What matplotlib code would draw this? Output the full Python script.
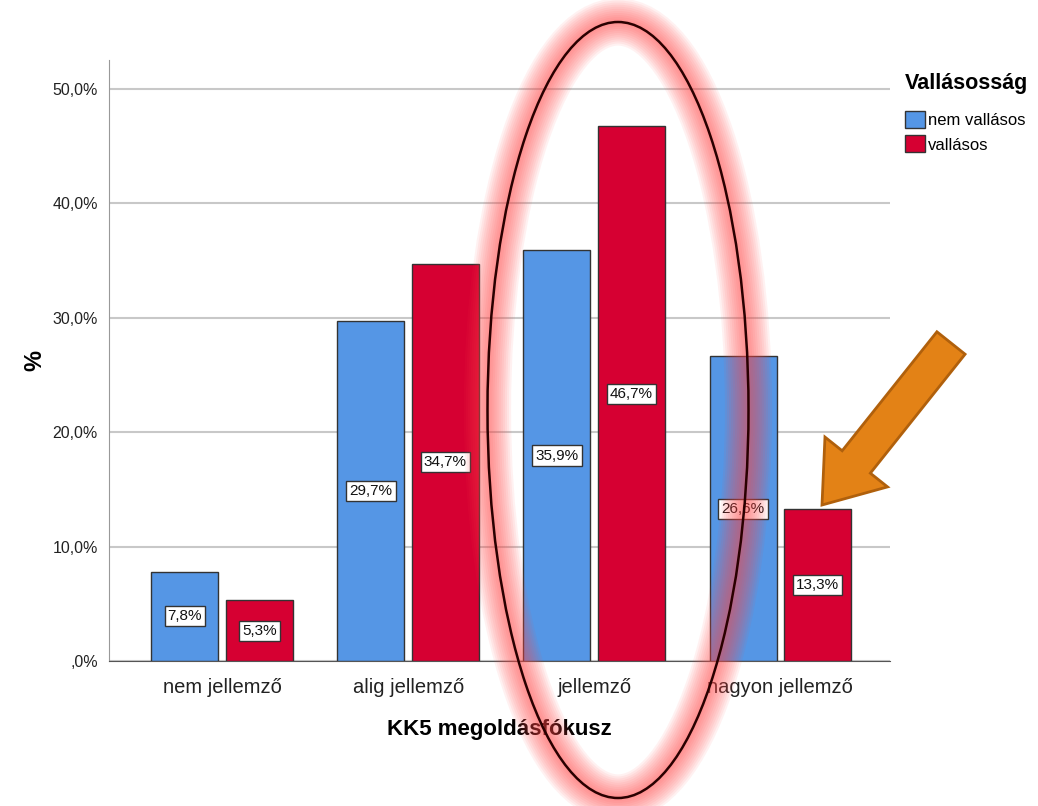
import numpy as np
import matplotlib
matplotlib.use("Agg")
import matplotlib.pyplot as plt
import matplotlib.patches as mpatches
from matplotlib.transforms import IdentityTransform

plt.rcParams['font.family'] = ['Liberation Sans', 'DejaVu Sans']

categories = ['nem jellemző', 'alig jellemző', 'jellemző', 'nagyon jellemző']
nem_vallasos = [7.8, 29.7, 35.9, 26.6]
vallasos = [5.3, 34.7, 46.7, 13.3]
series_names = ['nem vallásos', 'vallásos']
yticks = [0, 10, 20, 30, 40, 50]

def fmt(v):
    s = ('%.1f' % v).replace('.', ',')
    if s.startswith('0'):
        s = s[1:]
    return s + '%'

W, H = 1038, 806
fig = plt.figure(figsize=(W / 100, H / 100), dpi=100)
ax = fig.add_axes([109 / W, 1 - 661 / H, (890 - 109) / W, (661 - 60) / H])

x = np.arange(len(categories))
bw = 0.36
off = 0.2
b1 = ax.bar(x - off, nem_vallasos, bw, color='#5596e5', edgecolor='#333333', linewidth=1, zorder=3)
b2 = ax.bar(x + off, vallasos, bw, color='#d60032', edgecolor='#333333', linewidth=1, zorder=3)

for bars, vals in ((b1, nem_vallasos), (b2, vallasos)):
    for r, v in zip(bars, vals):
        ax.text(r.get_x() + r.get_width() / 2, v / 2, fmt(v), ha='center', va='center',
                fontsize=11, color='#111111', zorder=5,
                bbox=dict(boxstyle='square,pad=0.2', fc='white', ec='#333333', lw=1))

ax.set_xlim(-0.608, 3.59)
ax.set_ylim(0, 52.5)
ax.set_yticks(yticks)
ax.set_yticklabels([fmt(v) for v in yticks], fontsize=11.5, color='#222222')
ax.set_xticks(x)
ax.set_xticklabels(categories, fontsize=14.5, color='#222222')
ax.tick_params(axis='both', length=0, pad=8)
ax.tick_params(axis='x', pad=12)
ax.yaxis.grid(True, color='#c8c8c8', linewidth=1.5, zorder=0)
ax.set_axisbelow(True)
for s in ('top', 'right'):
    ax.spines[s].set_visible(False)
ax.spines['left'].set_color('#999999')
ax.spines['bottom'].set_color('#555555')
ax.set_xlabel('KK5 megoldásfókusz', fontsize=16, fontweight='bold', labelpad=16)
ax.set_ylabel('%', fontsize=17, fontweight='bold', labelpad=4)

handles = [mpatches.Patch(fc='#5596e5', ec='#333333'), mpatches.Patch(fc='#d60032', ec='#333333')]
leg = fig.legend(handles, series_names, loc='upper left', bbox_to_anchor=(890 / W, 1 - 58 / H),
                 frameon=False, fontsize=12, title='Vallásosság',
                 title_fontproperties={'weight': 'bold', 'size': 15.5},
                 handlelength=1.2, handleheight=1.2, handletextpad=0.2, labelspacing=0.45)
leg._legend_box.align = 'left'
leg._legend_box.sep = 12

# highlight ellipse with soft glow
cx, cy, ew, eh = 618, H - 410, 261, 776
for lw in range(34, 2, -3):
    fig.add_artist(mpatches.Ellipse((cx, cy), ew, eh, fill=False, ec='#ff4545', lw=lw,
                                    alpha=0.07, transform=IdentityTransform(), zorder=10))
fig.add_artist(mpatches.Ellipse((cx, cy), ew, eh, fill=False, ec='#2a0000', lw=1.8,
                                transform=IdentityTransform(), zorder=11))

# arrow
fig.add_artist(mpatches.FancyArrow(951, H - 343, -129, -162, width=36, head_width=80, head_length=55,
                                   length_includes_head=True, fc='#e38216', ec='#b0600c', lw=2,
                                   transform=IdentityTransform(), zorder=12))

fig.savefig('out.png', dpi=100)
